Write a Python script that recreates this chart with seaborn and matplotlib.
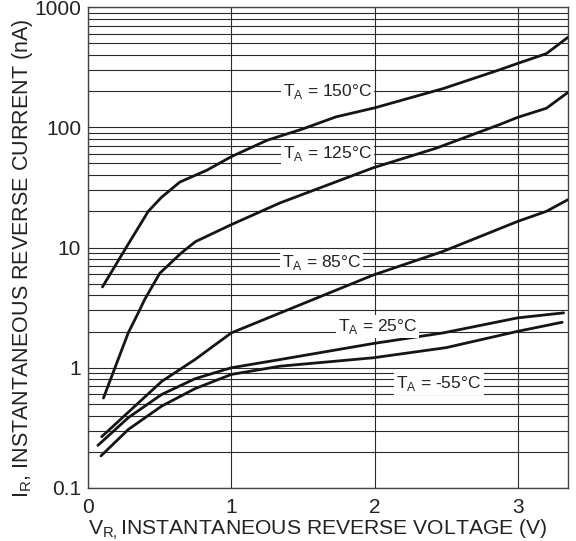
import numpy as np
import pandas as pd
import matplotlib
matplotlib.use("Agg")
import matplotlib.pyplot as plt
import seaborn as sns

# curves (V in volts, I in nA)
v150 = [0.10, 0.27, 0.42, 0.51, 0.64, 0.83, 1.0, 1.25, 1.5, 1.73, 2.0, 2.48, 2.87, 3.0, 3.2, 3.35]
i150 = [4.7, 10.2, 20, 26, 35, 44, 57, 78, 97, 122, 145, 210, 300, 340, 410, 560]

v125 = [0.107, 0.28, 0.35, 0.395, 0.50, 0.65, 0.75, 1.0, 1.34, 1.99, 2.43, 2.87, 3.0, 3.2, 3.35]
i125 = [0.56, 1.95, 2.86, 3.7, 6.1, 9.0, 11.2, 15.5, 23.5, 46, 67, 105, 121, 144, 195]

v85 = [0.095, 0.514, 0.746, 1.0, 1.37, 1.99, 2.48, 3.0, 3.2, 3.35]
i85 = [0.267, 0.77, 1.17, 1.95, 2.95, 5.9, 9.3, 16.5, 20, 25]

v25 = [0.068, 0.281, 0.514, 0.746, 1.0, 1.34, 1.99, 2.48, 3.0, 3.32]
i25 = [0.226, 0.385, 0.60, 0.81, 1.0, 1.17, 1.59, 1.95, 2.6, 2.86]

v55 = [0.09, 0.281, 0.514, 0.746, 1.0, 1.34, 1.99, 2.50, 3.0, 3.31]
i55 = [0.185, 0.307, 0.48, 0.67, 0.88, 1.03, 1.21, 1.47, 2.01, 2.39]

temps = ["150", "125", "85", "25", "-55"]
label_v = [1.67, 1.67, 1.63, 2.02, 2.45]
label_i = [200, 60, 7.5, 2.2, 0.74]

ytick_vals = [0.1, 1, 10, 100, 1000]
ytick_text = ["0.1", "1", "10", "100", "1000"]
xtick_vals = [0, 1, 2, 3]

frames = []
for t, v, i in zip(temps, [v150, v125, v85, v25, v55], [i150, i125, i85, i25, i55]):
    frames.append(pd.DataFrame({"V": v, "I": i, "T": t}))
df = pd.concat(frames, ignore_index=True)

sns.set_style("white")
plt.rcParams["font.family"] = ["Liberation Sans", "DejaVu Sans"]
plt.rcParams["mathtext.fontset"] = "custom"
plt.rcParams["mathtext.rm"] = "Liberation Sans"

fig = plt.figure(figsize=(5.76, 5.41), dpi=100)
ax = fig.add_axes([0.153, 0.098, 0.833, 0.889])

sns.lineplot(data=df, x="V", y="I", hue="T", units="T", estimator=None, sort=False,
             palette=["#151515"] * 5, linewidth=2.0, legend=False, ax=ax, zorder=3)

ax.set_yscale("log")
ax.set_xlim(0, 3.35)
ax.set_ylim(0.1, 1000)
ax.set_yticks(ytick_vals)
ax.set_yticklabels(ytick_text)
ax.yaxis.set_minor_formatter(matplotlib.ticker.NullFormatter())
ax.set_xticks(xtick_vals)
ax.tick_params(which="both", length=0, labelsize=15, colors="#222222")
ax.tick_params(axis="x", pad=7)
ax.tick_params(axis="y", pad=5)

ax.grid(which="both", axis="y", color="#2a2a2a", linewidth=0.8)
ax.grid(which="major", axis="x", color="#2a2a2a", linewidth=0.8)
for s in ax.spines.values():
    s.set_color("#444444")
    s.set_linewidth(1.0)

for t, x, y in zip(temps, label_v, label_i):
    ax.text(x, y, r"T$_\mathrm{A}$ = " + t + "°C", fontsize=12.5, ha="center", va="center",
            color="#222222", zorder=4,
            bbox=dict(facecolor="white", edgecolor="none", pad=1.5))

ax.set_xlabel(r"V$_\mathrm{R,}$INSTANTANEOUS REVERSE VOLTAGE (V)", fontsize=15.2, color="#222222")
ax.set_ylabel(r"I$_\mathrm{R}$, INSTANTANEOUS REVERSE CURRENT (nA)", fontsize=15.5, color="#222222")
ax.xaxis.set_label_coords(0.478, -0.062)
ax.yaxis.set_label_coords(-0.11, 0.478)

fig.savefig("out.png", dpi=100)
